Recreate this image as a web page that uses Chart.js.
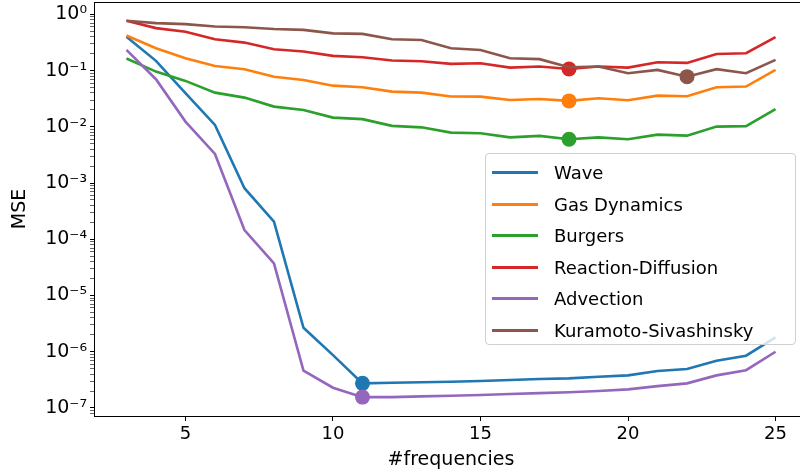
<!DOCTYPE html>
<html>
<head>
<meta charset="utf-8">
<script src="https://cdn.jsdelivr.net/npm/chart.js@4"></script>
<style>
  html, body { margin: 0; padding: 0; background: #fff; overflow: hidden; }
  #wrap { position: relative; width: 812px; height: 471px; }
  #legend {
    position: absolute; left: 485px; top: 153px; width: 311px; height: 192px;
    box-sizing: border-box; border: 1px solid #d0d0d0; border-radius: 4px;
    background: rgba(255,255,255,0.8); font-family: "DejaVu Sans"; font-size: 18px; color: #000;
    padding-top: 3px;
  }
  .item { height: 31.5px; display: flex; align-items: center; }
  .swatch { width: 46px; height: 3px; margin-left: 6px; margin-right: 16px; }
</style>
</head>
<body>
<div id="wrap">
  <canvas id="grafico"></canvas>
  <div id="legend"></div>
</div>
<script>
const frecuencias = [3, 4, 5, 6, 7, 8, 9, 10, 11, 12, 13, 14, 15, 16, 17, 18, 19, 20, 21, 22, 23, 24, 25];
const nombres = ['Wave', 'Gas Dynamics', 'Burgers', 'Reaction-Diffusion', 'Advection', 'Kuramoto-Sivashinsky'];
const colores = ['#1f77b4', '#ff7f0e', '#2ca02c', '#d62728', '#9467bd', '#8c564b'];

const wave = [0.40, 0.149, 0.0396, 0.0108, 8.1e-4, 2.06e-4, 2.67e-6, 8.7e-7, 2.74e-7, 2.81e-7, 2.86e-7, 2.93e-7,
  3.01e-7, 3.14e-7, 3.27e-7, 3.36e-7, 3.59e-7, 3.8e-7, 4.54e-7, 4.92e-7, 6.9e-7, 8.5e-7, 1.8e-6];
const gasDynamics = [0.42, 0.25, 0.166, 0.121, 0.106, 0.078, 0.068, 0.054, 0.0507, 0.0423, 0.0406, 0.0347,
  0.0345, 0.0301, 0.0313, 0.0289, 0.0323, 0.0297, 0.0359, 0.035, 0.0507, 0.052, 0.103];
const burgers = [0.164, 0.096, 0.0656, 0.0406, 0.0331, 0.0229, 0.020, 0.0146, 0.0137, 0.0104, 0.0098, 0.0079,
  0.0077, 0.0065, 0.0069, 0.0060, 0.0065, 0.0060, 0.00727, 0.00697, 0.0101, 0.0103, 0.0206];
const reactionDiffusion = [0.77, 0.57, 0.49, 0.36, 0.315, 0.24, 0.218, 0.183, 0.173, 0.151, 0.147, 0.132,
  0.135, 0.113, 0.118, 0.107, 0.118, 0.113, 0.141, 0.137, 0.198, 0.204, 0.393];
const advection = [0.233, 0.0703, 0.0124, 0.0033, 1.46e-4, 3.74e-5, 4.6e-7, 2.29e-7, 1.56e-7, 1.56e-7, 1.61e-7, 1.65e-7,
  1.70e-7, 1.77e-7, 1.84e-7, 1.90e-7, 2.0e-7, 2.14e-7, 2.45e-7, 2.74e-7, 3.8e-7, 4.7e-7, 1.0e-6];
const kuramoto = [0.77, 0.70, 0.67, 0.61, 0.59, 0.55, 0.53, 0.46, 0.45, 0.36, 0.35, 0.25,
  0.233, 0.166, 0.16, 0.115, 0.118, 0.090, 0.103, 0.078, 0.106, 0.090, 0.155];

// x value where each curve gets its marker
const mejores = [11, 18, 18, 18, 11, 22];
const xTicks = [5, 10, 15, 20, 25];

const series = [wave, gasDynamics, burgers, reactionDiffusion, advection, kuramoto];

const sup = { '-': '⁻', '0': '⁰', '1': '¹', '2': '²', '3': '³', '4': '⁴', '5': '⁵', '6': '⁶', '7': '⁷', '8': '⁸', '9': '⁹' };
function potencia(e) {
  return '10' + String(e).split('').map(c => sup[c]).join('');
}

const datasets = series.map(function(vals, i) {
  return {
    label: nombres[i],
    data: vals.map((v, j) => ({ x: frecuencias[j], y: v })),
    borderColor: colores[i],
    backgroundColor: colores[i],
    borderWidth: 2.6,
    order: 10 - i,
    pointRadius: ctx => (frecuencias[ctx.dataIndex] === mejores[i] ? 7.5 : 0),
    pointHoverRadius: 0,
    pointBorderWidth: 0,
    tension: 0
  };
});

const marco = {
  id: 'marco',
  afterDraw(chart) {
    const a = chart.chartArea;
    const c = chart.ctx;
    c.save();
    c.strokeStyle = '#000';
    c.lineWidth = 1;
    c.strokeRect(Math.round(a.left) + 0.5, Math.round(a.top) + 0.5, a.right - a.left, a.bottom - a.top);
    c.restore();
  }
};

const fuente = { family: 'DejaVu Sans', size: 18 };

new Chart(document.querySelector('#grafico'), {
  type: 'line',
  data: { datasets: datasets },
  plugins: [marco],
  options: {
    responsive: true,
    maintainAspectRatio: false,
    animation: false,
    events: [],
    layout: { padding: { top: 2, right: 4, left: 0, bottom: 0 } },
    plugins: { legend: { display: false }, tooltip: { enabled: false } },
    scales: {
      x: {
        type: 'linear',
        min: 1.9,
        max: 26.1,
        afterBuildTicks: s => { s.ticks = xTicks.map(v => ({ value: v })); },
        afterFit: s => { s.height = 55; s.paddingLeft = 0; s.paddingRight = 0; },
        grid: { drawOnChartArea: false, tickLength: 5, color: '#000' },
        border: { color: '#000' },
        ticks: { color: '#000', font: fuente, padding: 3, maxRotation: 0 },
        title: { display: true, text: '#frequencies', color: '#000', font: { family: 'DejaVu Sans', size: 19 }, padding: { top: 0, bottom: 0 } }
      },
      y: {
        type: 'logarithmic',
        min: 7.2e-8,
        max: 1.66,
        afterBuildTicks: s => {
          const t = [];
          for (let e = -8; e <= 0; e++) {
            for (let d = 1; d <= 9; d++) {
              const v = d * Math.pow(10, e);
              if (v >= s.min && v <= s.max) t.push({ value: v, major: d === 1 });
            }
          }
          s.ticks = t;
        },
        afterFit: s => { s.width = 94; s.paddingTop = 0; s.paddingBottom = 0; },
        grid: {
          drawOnChartArea: false,
          tickLength: 4,
          color: '#000',
          tickWidth: ctx => (ctx.tick && ctx.tick.major ? 1 : 0.6)
        },
        border: { color: '#000' },
        ticks: {
          color: '#000',
          font: { family: 'DejaVu Sans', size: 19 },
          padding: 3,
          autoSkip: false,
          callback: function(v) {
            const e = Math.round(Math.log10(v));
            return Math.abs(v - Math.pow(10, e)) / Math.pow(10, e) < 1e-6 ? potencia(e) : '';
          }
        },
        title: { display: true, text: 'MSE', color: '#000', font: { family: 'DejaVu Sans', size: 19 }, padding: { top: 9, bottom: 0 } }
      }
    }
  }
});

const leyenda = document.querySelector('#legend');
nombres.forEach(function(n, i) {
  leyenda.insertAdjacentHTML('beforeend',
    `<div class="item"><span class="swatch" style="background:${colores[i]}"></span><span>${n}</span></div>`);
});
</script>
</body>
</html>
